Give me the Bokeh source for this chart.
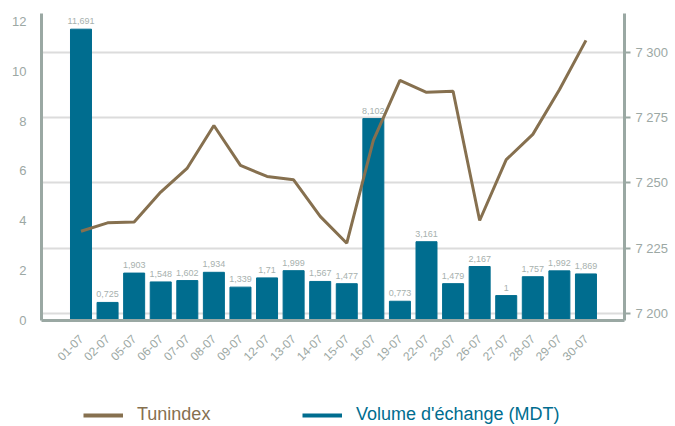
import math
from bokeh.plotting import figure
from bokeh.layouts import column
from bokeh.models import (ColumnDataSource, Range1d, LinearAxis, FixedTicker, Grid,
                          Legend, LegendItem)
from bokeh.core.properties import value
from bokeh.embed import file_html
from bokeh.resources import INLINE

dates = ["01-07", "02-07", "05-07", "06-07", "07-07", "08-07", "09-07", "12-07", "13-07", "14-07",
         "15-07", "16-07", "19-07", "22-07", "23-07", "26-07", "27-07", "28-07", "29-07", "30-07"]
volume = [11.691, 0.725, 1.903, 1.548, 1.602, 1.934, 1.339, 1.71, 1.999, 1.567,
          1.477, 8.102, 0.773, 3.161, 1.479, 2.167, 1, 1.757, 1.992, 1.869]
tunindex = [7231.5, 7234.7, 7235.0, 7246.5, 7255.7, 7272.0, 7256.7, 7252.5, 7251.2, 7237.2,
            7226.9, 7266.3, 7289.3, 7284.7, 7285.1, 7235.6, 7258.9, 7268.6, 7285.7, 7304.6]
left_ticks = [0, 2, 4, 6, 8, 10, 12]
right_ticks = [7200, 7225, 7250, 7275, 7300]
right_tick_labels = ["7 200", "7 225", "7 250", "7 275", "7 300"]
series_names = ["Tunindex", "Volume d'échange (MDT)"]

FONT = "Liberation Sans"
BLUE = "#006d8f"
BROWN = "#86704f"
AXIS = "#9aa8a3"
LABEL = "#9ca8a4"

xs = list(range(len(dates)))
src = ColumnDataSource(dict(
    x=xs, vol=volume, tun=tunindex,
    lbl=[f"{v:g}".replace(".", ",") for v in volume],
))

p = figure(width=675, height=390, output_backend="svg", toolbar_location=None,
           x_range=Range1d(-1.486, 20.45), y_range=Range1d(0, 12.32),
           min_border_left=41, min_border_right=51, min_border_top=13, min_border_bottom=70)
p.extra_y_ranges = {"right": Range1d(7197.3, 7314.9)}
p.outline_line_color = None
p.xgrid.visible = False
p.ygrid.visible = False

grid = Grid(dimension=1, ticker=FixedTicker(ticks=right_ticks), y_range_name="right",
            grid_line_color="#dcdcdc", grid_line_width=2)
p.add_layout(grid)

p.vbar(x="x", top="vol", width=0.79, source=src, color=BLUE)
p.text(x="x", y="vol", text="lbl", source=src, text_align="center", text_baseline="bottom",
       y_offset=-5, text_font_size="9px", text_color="#a7b1ae", text_font=value(FONT))
p.line(x="x", y="tun", source=src, y_range_name="right", line_width=3, color=BROWN)

# x axis
xa = p.xaxis[0]
xa.ticker = FixedTicker(ticks=xs)
xa.major_label_overrides = {i: d for i, d in zip(xs, dates)}
xa.major_label_orientation = math.pi / 4
xa.axis_line_color = AXIS
xa.axis_line_width = 3
xa.major_tick_line_color = None
xa.minor_tick_line_color = None
xa.major_label_text_font = FONT
xa.major_label_text_font_size = "12px"
xa.major_label_text_color = LABEL
xa.major_label_standoff = 10

# left axis
ya = p.yaxis[0]
ya.ticker = FixedTicker(ticks=left_ticks)
ya.axis_line_color = AXIS
ya.axis_line_width = 3
ya.major_tick_line_color = None
ya.minor_tick_line_color = None
ya.major_label_text_font = FONT
ya.major_label_text_font_size = "13px"
ya.major_label_text_color = LABEL
ya.major_label_standoff = 9

# right axis
ra = LinearAxis(y_range_name="right", ticker=FixedTicker(ticks=right_ticks))
ra.major_label_overrides = {t: l for t, l in zip(right_ticks, right_tick_labels)}
ra.axis_line_color = AXIS
ra.axis_line_width = 3
ra.major_tick_line_color = AXIS
ra.major_tick_line_width = 2
ra.major_tick_in = 0
ra.major_tick_out = 6
ra.minor_tick_line_color = None
ra.major_label_text_font = FONT
ra.major_label_text_font_size = "13px"
ra.major_label_text_color = LABEL
ra.major_label_standoff = 5
p.add_layout(ra, "right")

# legend strip below the chart
lf = figure(width=675, height=36, output_backend="svg", toolbar_location=None,
            x_range=Range1d(0, 1), y_range=Range1d(0, 1),
            x_axis_type=None, y_axis_type=None, min_border=0)
lf.outline_line_color = None
lf.xgrid.visible = False
lf.ygrid.visible = False
nan = float("nan")
d1 = lf.line(x=[nan], y=[nan], color=BROWN, line_width=4)
d2 = lf.line(x=[nan], y=[nan], color=BLUE, line_width=4)

def make_legend(label, rend, loc, color):
    return Legend(items=[LegendItem(label=label, renderers=[rend])], location=loc,
                  border_line_color=None, background_fill_alpha=0, padding=0, margin=0,
                  glyph_width=40, glyph_height=16, label_standoff=14, label_height=16,
                  label_text_font=FONT, label_text_font_size="18px", label_text_color=color)

lf.add_layout(make_legend(series_names[0], d1, (42, 1), BROWN))
lf.add_layout(make_legend(series_names[1], d2, (261, 1), BLUE))

layout = column(p, lf, spacing=0)
open("out.html", "w").write(file_html(layout, INLINE))
